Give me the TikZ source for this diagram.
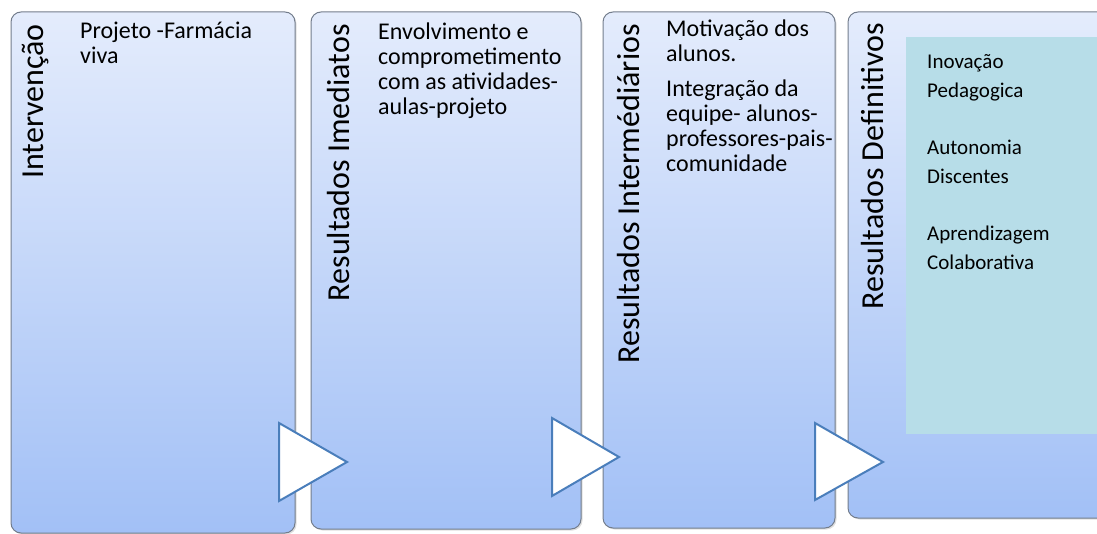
\documentclass[tikz,border=0pt]{standalone}
\usepackage{fontspec}
\setmainfont{Carlito}
\usetikzlibrary{shadows}
\definecolor{boxtop}{RGB}{228,236,252}
\definecolor{boxbot}{RGB}{162,192,246}
\definecolor{boxline}{RGB}{115,125,140}
\definecolor{tealbox}{RGB}{183,221,232}
\definecolor{triline}{RGB}{74,126,187}
\begin{document}
\begin{tikzpicture}[x=1pt,y={(0,-1pt)},
  panel/.style={draw=boxline, line width=1pt, rounded corners=10pt, top color=boxtop, bottom color=boxbot,
    anchor=north west, inner sep=0pt, outer sep=0pt,
    drop shadow={opacity=0.25, shadow xshift=1.5pt, shadow yshift=-1.5pt}},
  titletext/.style={rotate=90, anchor=base east, inner sep=0pt, font=\fontsize{32}{32}\selectfont},
  bodytext/.style={anchor=base west, inner sep=0pt, align=left, font=\fontsize{24}{25}\selectfont},
  smalltext/.style={anchor=base west, inner sep=0pt, align=left, font=\fontsize{21}{29.5}\selectfont},
  arrowtri/.style={draw=triline, line width=2pt, fill=white, line join=miter}
]
\useasboundingbox (0,0) rectangle (1097,534);
\clip (0,0) rectangle (1097,534);
% panels
\node[panel, minimum width=284pt, minimum height=521pt] (p1) at (11,12) {};
\node[panel, minimum width=270pt, minimum height=517pt] (p2) at (311,12) {};
\node[panel, minimum width=232pt, minimum height=516pt] (p3) at (603,12) {};
\node[panel, minimum width=270pt, minimum height=506pt] (p4) at (848,12) {};
% teal area
\node[fill=tealbox, anchor=north west, inner sep=0pt, minimum width=200pt, minimum height=397pt] (d4) at (906,37) {};
% titles
\node[titletext] (t1) at (43,24) {Intervenção};
\node[titletext] (t2) at (349,24) {Resultados Imediatos};
\node[titletext] (t3) at (639,24) {Resultados Intermédiários};
\node[titletext] (t4) at (883,23) {Resultados Definitivos};
% body texts (anchored at the baseline of the last line)
\node[bodytext] (c1) at (80,64) {Projeto -Farmácia\\viva};
\node[bodytext] (c2) at (378,115) {Envolvimento e\\comprometimento\\com as atividades-\\aulas-projeto};
\node[bodytext] (c3) at (666,172) {Motivação dos\\alunos.\\[10pt]Integração da\\equipe- alunos-\\professores-pais-\\comunidade};
\node[smalltext] (c4) at (927,270) {Inovação\\Pedagogica\\[27pt]Autonomia\\Discentes\\[27pt]Aprendizagem\\Colaborativa};
% arrows
\draw[arrowtri] (279,423) -- (347,462) -- (279,501) -- cycle;
\draw[arrowtri] (552,418) -- (619,457) -- (552,496) -- cycle;
\draw[arrowtri] (815,423) -- (883,462) -- (815,500) -- cycle;
\end{tikzpicture}
\end{document}
